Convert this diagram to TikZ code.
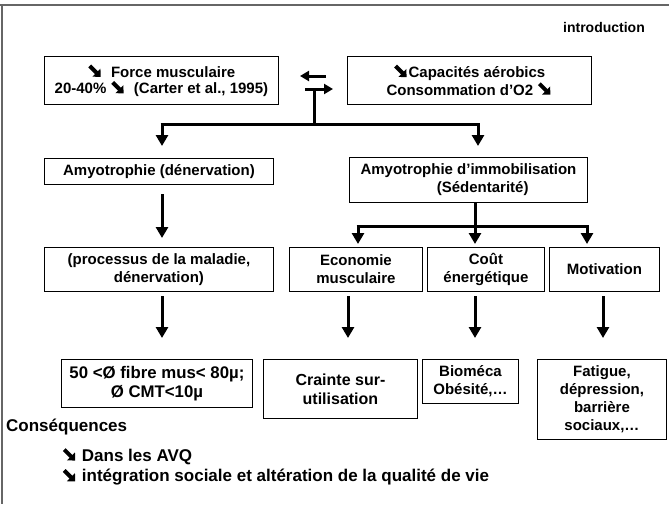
\documentclass[tikz,border=0pt]{standalone}
\usepackage{fontspec}
\setmainfont{Liberation Sans}
\usetikzlibrary{arrows.meta}
\newcommand{\dnarr}{\tikz[baseline=0pt,x=1pt,y=1pt]{\draw[line width=4pt,-{Triangle[length=6pt,width=11pt]}] (0.5,11.5) -- (11.5,0.5);}}
\tikzset{
  box/.style={draw=black, line width=0.9pt, align=center, anchor=north west, inner sep=1pt,
    font=\bfseries\fontsize{15}{18}\selectfont},
  topbox/.style={box, font=\bfseries\fontsize{15}{16.5}\selectfont},
  bigbox/.style={box, font=\bfseries\fontsize{16.8}{18.5}\selectfont},
  lbl/.style={font=\bfseries\fontsize{17}{19}\selectfont, inner sep=0pt},
  flow/.style={line width=3pt, -{Triangle[length=11pt,width=12pt]}},
  swap/.style={line width=3pt, -{Triangle[length=9pt,width=10pt]}},
  bar/.style={line width=3pt},
}
\begin{document}
\begin{tikzpicture}[x=1pt,y=-1pt]
\useasboundingbox (0,0) rectangle (669,504);
\draw[line width=2pt, black!60] (0,5) -- (669,5);
\draw[line width=2pt, black!60] (1.5,5) -- (1.5,504);

\node[lbl, anchor=east, font=\bfseries\fontsize{14}{16}\selectfont] (intro) at (645,27) {introduction};

% top boxes
\node[topbox, minimum width=234pt, minimum height=48pt] (force) at (44,56)
  {\dnarr\ \ Force musculaire\\20-40\% \dnarr\ \ (Carter et al., 1995)};
\node[topbox, minimum width=244pt, minimum height=48pt] (aero) at (347,56)
  {\dnarr Capacités aérobics\\Consommation d’O2 \dnarr};

% exchange arrows
\coordinate (lA) at (326,76); \coordinate (lB) at (300,76);
\coordinate (rA) at (305,89); \coordinate (rB) at (333,89);
\draw[swap] (lA) -- (lB);
\draw[swap] (rA) -- (rB);
\coordinate (mid) at (314,89);
\coordinate (j1) at (314,124);
\coordinate (j1l) at (162,124);
\coordinate (j1r) at (478,124);
\coordinate (t1l) at (162,146);
\coordinate (t1r) at (478,146);

% second row
\node[box, minimum width=229pt, minimum height=26pt] (amy1) at (44,158) {Amyotrophie (dénervation)};
\node[box, minimum width=238pt, minimum height=45pt] (amy2) at (349,157)
  {Amyotrophie d’immobilisation\\\hspace*{1.9em}(Sédentarité)};

\draw[bar] (mid) -- (j1);
\draw[bar] ([xshift=-1.5pt]j1l) -- ([xshift=1.5pt]j1r);
\draw[flow] (j1l) -- (t1l);
\draw[flow] (j1r) -- (t1r);

% third row
\node[box, minimum width=229pt, minimum height=44pt] (proc) at (44,247) {(processus de la maladie,\\dénervation)};
\node[box, minimum width=133pt, minimum height=44pt] (eco) at (289,247) {Economie\\musculaire};
\node[box, minimum width=117pt, minimum height=44pt] (cout) at (427,247) {Coût\\énergétique};
\node[box, minimum width=110pt, minimum height=44pt] (moti) at (549,247) {Motivation};

\coordinate (s1) at (162,194); \coordinate (e1) at (162,238);
\draw[flow] (s1) -- (e1);

\coordinate (j2) at (475,226);
\coordinate (j2l) at (358,226);
\coordinate (j2r) at (587,226);
\coordinate (t2l) at (358,244);
\coordinate (t2m) at (475,244);
\coordinate (t2r) at (587,244);
\draw[bar] (amy2.south -| j2) -- (j2);
\draw[bar] ([xshift=-1.5pt]j2l) -- ([xshift=1.5pt]j2r);
\draw[flow] (j2l) -- (t2l);
\draw[flow] (j2) -- (t2m);
\draw[flow] (j2r) -- (t2r);

% fourth row
\node[bigbox, minimum width=191pt, minimum height=48pt] (fib) at (61,359) {50 <Ø fibre mus< 80µ;\\Ø CMT<10µ};
\node[box, font=\bfseries\fontsize{16}{19}\selectfont, minimum width=154pt, minimum height=59pt] (crai) at (263,359) {Crainte sur-\\utilisation};
\node[box, minimum width=96pt, minimum height=44pt] (bio) at (422,359) {Bioméca\\Obésité,…};
\node[box, minimum width=129pt, minimum height=80pt] (fat) at (537,359) {Fatigue,\\dépression,\\barrière\\sociaux,…};

\coordinate (a1) at (162,296); \coordinate (b1) at (162,338);
\coordinate (a2) at (348,296); \coordinate (b2) at (348,338);
\coordinate (a3) at (475,296); \coordinate (b3) at (475,338);
\coordinate (a4) at (603,296); \coordinate (b4) at (603,338);
\draw[flow] (a1) -- (b1);
\draw[flow] (a2) -- (b2);
\draw[flow] (a3) -- (b3);
\draw[flow] (a4) -- (b4);

\node[lbl, anchor=west] (cons) at (6,427) {Conséquences};
\node[lbl, anchor=west] (avq) at (62,456) {\dnarr\ Dans les AVQ};
\node[lbl, anchor=west] (integ) at (62,477) {\dnarr\ intégration sociale et altération de la qualité de vie};
\end{tikzpicture}
\end{document}
